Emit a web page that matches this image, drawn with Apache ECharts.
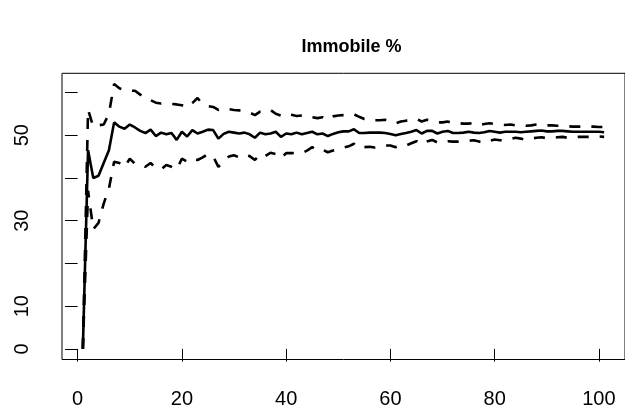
<!DOCTYPE html>
<html>
<head>
<meta charset="utf-8">
<script src="https://cdn.jsdelivr.net/npm/echarts@6/dist/echarts.min.js"></script>
<style>html,body{margin:0;padding:0;background:#fff}#c{width:625px;height:414px}</style>
</head>
<body>
<div id="c"></div>
<script>
const xs = [1,2,3,4,5,6,7,8,9,10,11,12,13,14,15,16,17,18,19,20,21,22,23,24,25,26,27,28,29,30,31,32,33,34,35,36,37,38,39,40,41,42,43,44,45,46,47,48,49,50,51,52,53,54,55,56,57,58,59,60,61,62,63,64,65,66,67,68,69,70,71,72,73,74,75,76,77,78,79,80,81,82,83,84,85,86,87,88,89,90,91,92,93,94,95,96,97,98,99,100,101];
const meanVals = [0,46.5,40,40.5,43.5,46.5,53,52,51.5,52.5,51.8,51,50.5,51.3,49.8,50.6,50.2,50.5,48.9,50.8,49.7,51.2,50.4,50.8,51.3,51.2,49.2,50.3,50.8,50.6,50.4,50.6,50.2,49.4,50.6,50.2,50.4,50.8,49.6,50.4,50.2,50.6,50.2,50.5,50.8,50.2,50.4,49.8,50.3,50.7,50.9,50.9,51.4,50.5,50.5,50.6,50.6,50.6,50.5,50.3,50.0,50.3,50.5,50.8,51.2,50.4,51.0,51.0,50.4,50.8,51.0,50.5,50.5,50.6,50.8,50.6,50.5,50.7,51.0,50.8,50.6,50.8,50.8,50.8,50.7,50.8,50.9,51.0,51.1,50.9,50.9,51.0,51.0,50.9,50.8,50.8,50.8,50.8,50.8,50.8,50.7];
const upperVals = [0,56,52,52.3,52.5,55,62,61,60.5,60.4,60.4,59.5,58.5,58.2,57.6,57.4,57.5,57.3,57.2,57.0,56.5,57.5,58.7,57.2,56.8,56.6,55.9,56.3,56.1,55.9,55.8,55.7,55.3,54.7,55.5,55.4,55.9,55.0,54.6,55.1,54.8,54.5,54.6,54.7,54.2,54.0,54.2,53.6,54.4,54.6,54.7,54.7,54.9,54.3,53.8,53.8,53.5,53.5,53.6,53.4,52.8,53.2,53.4,53.5,53.8,53.2,53.6,53.4,53.0,53.0,53.2,52.8,52.8,52.7,52.7,52.9,52.4,52.6,52.8,52.6,52.5,52.4,52.5,52.3,52.4,52.2,52.3,52.5,52.6,52.3,52.3,52.2,52.2,52.1,52.0,52.0,52.0,52.0,52.0,51.9,51.9];
const lowerVals = [0,37,28,29.5,34,37.5,43.8,43.5,42.5,44.5,43.3,43.2,42.6,43.5,42.3,42,43,42.6,42,44.5,43.8,44.5,44.2,44.8,45.6,45,42.6,43.8,45,45.3,44.8,45.4,45.1,44.2,45.6,45.1,45.9,45.6,44.6,45.8,45.8,45.9,45.8,46.4,47.2,46.4,46.6,46.0,46.4,46.8,47.1,47.4,48.0,47.0,47.2,47.3,47.1,47.3,47.6,47.6,47.2,47.7,47.6,48.1,48.6,47.8,48.5,48.9,48.3,48.3,48.6,48.5,48.5,48.6,48.7,48.8,48.5,48.2,48.7,49.0,48.8,48.8,49.1,49.4,49.2,48.9,49.2,49.4,49.5,49.3,49.4,49.5,49.6,49.4,49.5,49.6,49.6,49.6,49.6,49.7,49.6];
const xTicks = [0,20,40,60,80,100];
const yTicks = [0,10,20,30,40,50,60];
const yLabels = [0,10,30,50];
const titleText = 'Immobile %';

const pairs = arr => xs.map((x, i) => [x, arr[i]]);
const FONT = 'Liberation Sans, Arial, Helvetica, sans-serif';
const chart = echarts.init(document.getElementById('c'), null, {renderer: 'canvas'});
chart.setOption({
  animation: false,
  backgroundColor: '#fff',
  title: {
    text: titleText,
    left: 346.5,
    textAlign: 'center',
    top: 33,
    textStyle: {fontFamily: FONT, fontSize: 18, fontWeight: 'bold', color: '#000'}
  },
  grid: {
    left: 62, right: -6, top: 73.3, bottom: 54.5,
    show: true, borderColor: '#000', borderWidth: 1, backgroundColor: 'transparent'
  },
  xAxis: {
    type: 'value', min: -3, max: 105,
    splitLine: {show: false},
    axisLine: {show: false},
    axisTick: {show: true, inside: false, length: 12.7, customValues: xTicks, lineStyle: {color: '#000', width: 1}},
    axisLabel: {customValues: xTicks, margin: 30, fontFamily: FONT, fontSize: 20, color: '#000'}
  },
  yAxis: {
    type: 'value', min: -2.48, max: 64.48,
    splitLine: {show: false},
    axisLine: {show: false},
    axisTick: {show: true, inside: false, length: 12.7, customValues: yTicks, lineStyle: {color: '#000', width: 1}},
    axisLabel: {customValues: yLabels, rotate: 90, margin: 30, fontFamily: FONT, fontSize: 20, color: '#000'}
  },
  series: [
    {type: 'line', data: pairs(meanVals), symbol: 'none', lineStyle: {color: '#000', width: 2.6}},
    {type: 'line', data: pairs(upperVals), symbol: 'none', lineStyle: {color: '#000', width: 2.6, type: [11, 11]}},
    {type: 'line', data: pairs(lowerVals), symbol: 'none', lineStyle: {color: '#000', width: 2.6, type: [11, 11]}}
  ]
});
</script>
</body>
</html>
